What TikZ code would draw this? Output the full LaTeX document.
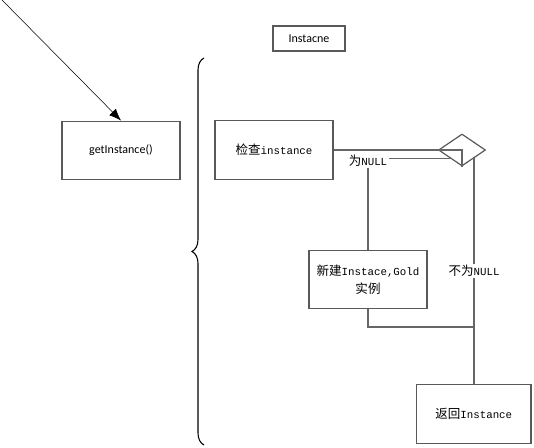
\documentclass[tikz,border=0pt]{standalone}
\usepackage{fontspec}
\setmainfont{Noto Sans CJK SC}
\setsansfont{Carlito}
\setmonofont[Scale=0.86]{Liberation Mono}
\usetikzlibrary{positioning,shapes.geometric,arrows.meta,decorations.pathreplacing}

\begin{document}
\begin{tikzpicture}[x=0.75pt,y=-0.75pt,
    box/.style={draw=black!65,line width=0.9pt,minimum width=88.5pt,minimum height=44pt,inner sep=1pt,align=center,font=\fontsize{9.4}{13.5}\selectfont},
    link/.style={draw=black!60,line width=0.9pt},
    lbl/.style={fill=white,inner sep=1pt,font=\fontsize{9.4}{13.5}\selectfont}]
  \useasboundingbox (0,0) rectangle (534,447);
  \node[box,font=\sffamily\fontsize{9}{11}\selectfont] (get) at (121,150.5) {getInstance()};
  \node[box,minimum width=54pt,minimum height=18.75pt,font=\sffamily\fontsize{9}{11}\selectfont] (title) at (309,38.5) {Instacne};
  \node[box] (check) at (274,150) {检查\texttt{instance}};
  \node[diamond,draw=black!65,line width=0.9pt,minimum width=35.25pt,minimum height=24pt,inner sep=0pt] (dec) at (462,150) {};
  \node[box] (new) at (368,279.5) {新建\texttt{Instace,Gold}\\实例};
  \node[box,minimum width=86pt] (ret) at (473.75,414) {返回\texttt{Instance}};
  \coordinate (start) at (2,0);
  \coordinate (join) at (473.75,327);
  \draw[-{Latex[length=9pt,width=7pt]},line width=0.4pt] (start) -- (get.north);
  \draw[decorate,decoration={brace,amplitude=9pt},line width=0.8pt] (204,445) -- (204,58);
  \draw[link] (check.east) -- (dec.center) -- (dec.south);
  \draw[link] (dec.south west) -| node[lbl,pos=0.5,yshift=-2pt]{为\texttt{NULL}} (new.north);
  \draw[link] (dec.south east) -- node[lbl]{不为\texttt{NULL}} (dec.south east |- ret.north);
  \draw[link] (new.south) |- (join);
\end{tikzpicture}
\end{document}
